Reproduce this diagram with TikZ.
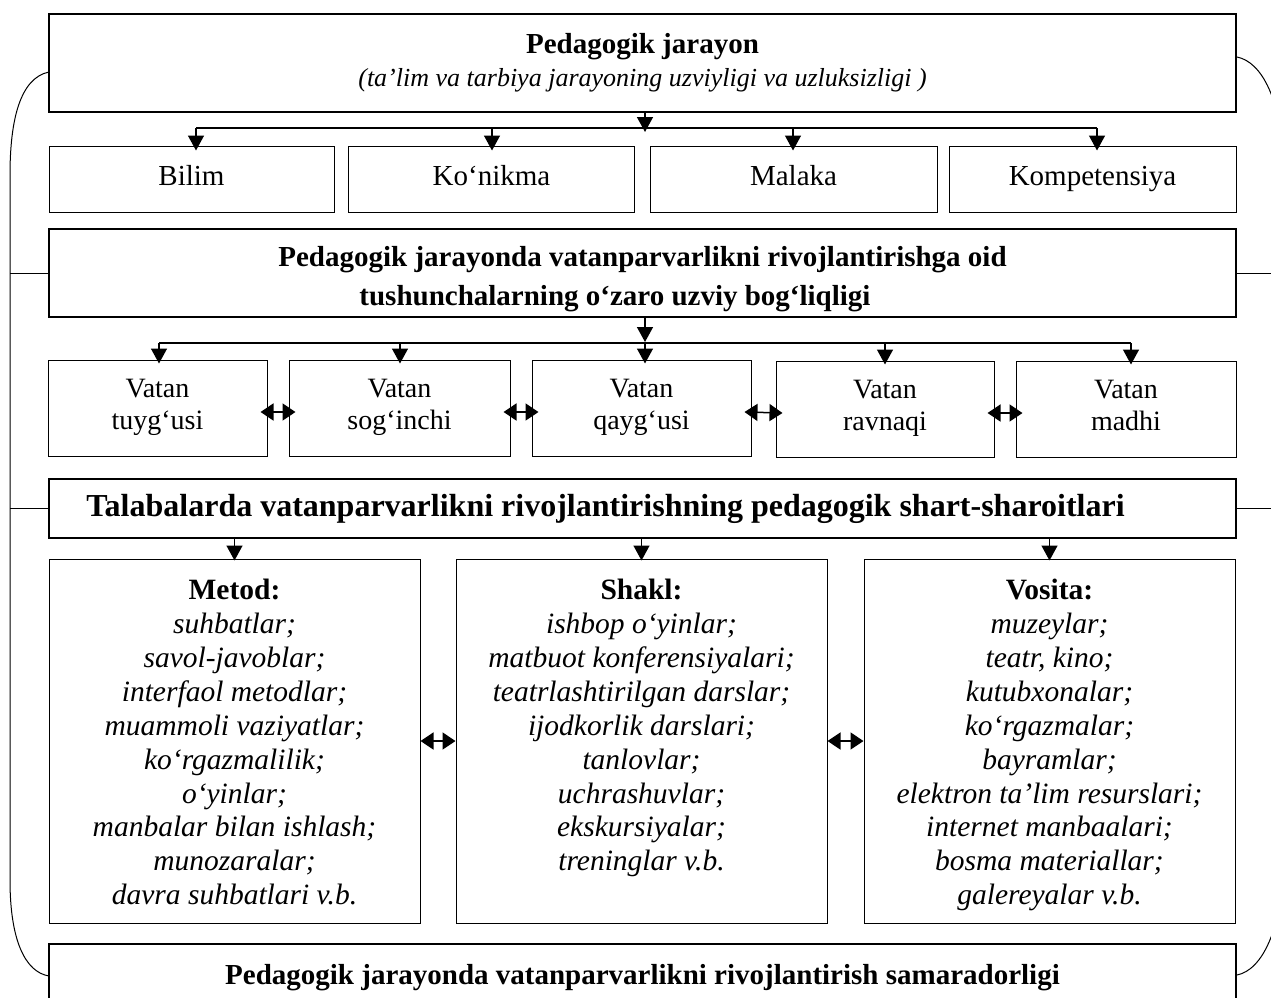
\documentclass[tikz,border=0pt]{standalone}
\usepackage{fontspec}
\setmainfont{Liberation Serif}
\usetikzlibrary{arrows.meta}
\begin{document}
\begin{tikzpicture}[x=1pt,y=-1pt,
  thickbox/.style={draw, line width=1.6pt, inner sep=0pt, minimum width=1187pt},
  thinbox/.style={draw, line width=1pt, inner sep=0pt},
  rowbox/.style={thinbox, minimum height=66pt, text height=20pt, text depth=7pt},
  conn/.style={line width=1.5pt},
  arr/.style={line width=1.5pt, -{Triangle[length=15pt,width=16pt]}},
  darr/.style={line width=1.5pt, {Triangle[length=13pt,width=17pt]}-{Triangle[length=13pt,width=17pt]}},
  brace/.style={line width=1pt},
  boldtxt/.style={font=\bfseries\fontsize{29}{39}\selectfont},
  vatan/.style={thinbox, minimum height=96pt, align=center, text depth=8pt, font=\fontsize{28}{32}\selectfont},
  listtxt/.style={anchor=north, align=center, inner sep=0pt, font=\itshape\fontsize{29.5}{33.9}\selectfont},
  every node/.style={font=\fontsize{29}{33}\selectfont}
]
\fill[white] (0,0) rectangle (1271,998);
\useasboundingbox (0,0) rectangle (1271,998);

% top box
\node[thickbox, minimum height=98pt, align=center] (top) at (642.5,63)
  {\textbf{Pedagogik jarayon}\\{\fontsize{26}{33}\selectfont\itshape (ta’lim va tarbiya jarayoning uzviyligi va uzluksizligi )}};

% row 2
\node[rowbox, minimum width=285pt] (bilim) at (191.5,179) {Bilim};
\node[rowbox, minimum width=286pt] (konikma) at (491.5,179) {Ko‘nikma};
\node[rowbox, minimum width=287pt] (malaka) at (793.5,179) {Malaka};
\node[rowbox, minimum width=287pt] (komp) at (1092.5,179) {Kompetensiya};

% box 2
\node[thickbox, minimum height=88pt] (link) at (642.5,273) {};
\node[boldtxt, align=center, inner sep=0pt] (linktxt) at (642.5,279)
  {Pedagogik jarayonda vatanparvarlikni rivojlantirishga oid\\tushunchalarning o‘zaro uzviy bog‘liqligi\hspace*{55pt}};

% vatan row
\node[vatan, minimum width=219pt] (v1) at (157.5,408) {Vatan\\tuyg‘usi};
\node[vatan, minimum width=221pt] (v2) at (399.5,408) {Vatan\\sog‘inchi};
\node[vatan, minimum width=219pt] (v3) at (641.5,408) {Vatan\\qayg‘usi};
\node[vatan, minimum width=218pt] (v4) at (885,409) {Vatan\\ravnaqi};
\node[vatan, minimum width=220pt] (v5) at (1126,409) {Vatan\\madhi};

% conditions box
\node[thickbox, font=\bfseries\fontsize{32}{36}\selectfont, minimum height=59pt, text height=22pt, text depth=6pt] (talab) at (642.5,508.5)
  {Talabalarda vatanparvarlikni rivojlantirishning pedagogik shart-sharoitlari\hspace*{74pt}};

% big boxes
\node[thinbox, minimum width=371pt, minimum height=364pt] (metod) at (234.5,741) {};
\node[thinbox, minimum width=371pt, minimum height=364pt] (shakl) at (641.5,741) {};
\node[thinbox, minimum width=371pt, minimum height=364pt] (vosita) at (1049.5,741) {};

\node[listtxt] (metodtxt) at (234.5,579) {\textup{\textbf{Metod:}}\\suhbatlar;\\savol-javoblar;\\interfaol metodlar;\\muammoli vaziyatlar;\\ko‘rgazmalilik;\\o‘yinlar;\\manbalar bilan ishlash;\\munozaralar;\\davra suhbatlari v.b.};
\node[listtxt] (shakltxt) at (641.5,579) {\textup{\textbf{Shakl:}}\\ishbop o‘yinlar;\\matbuot konferensiyalari;\\teatrlashtirilgan darslar;\\ijodkorlik darslari;\\tanlovlar;\\uchrashuvlar;\\ekskursiyalar;\\treninglar v.b.};
\node[listtxt] (vositatxt) at (1049.5,579) {\textup{\textbf{Vosita:}}\\muzeylar;\\teatr, kino;\\kutubxonalar;\\ko‘rgazmalar;\\bayramlar;\\elektron ta’lim resurslari;\\internet manbaalari;\\bosma materiallar;\\galereyalar v.b.};

% bottom box
\node[thickbox, boldtxt, minimum height=66pt, text height=20pt, text depth=6pt] (eff) at (642.5,977)
  {Pedagogik jarayonda vatanparvarlikni rivojlantirish samaradorligi};

% connectors row 1 -> row 2
\coordinate (t1) at (645,132);
\coordinate (a1) at (196,128);
\coordinate (a2) at (492,128);
\coordinate (a3) at (793,128);
\coordinate (a4) at (1097,128);
\draw[conn] (a1) -- (a4);
\draw[arr] (top.south -| t1) -- (t1);
\draw[arr] (a1) -- ([yshift=-5pt]a1 |- bilim.north);
\draw[arr] (a2) -- ([yshift=-5pt]a2 |- konikma.north);
\draw[arr] (a3) -- ([yshift=-5pt]a3 |- malaka.north);
\draw[arr] (a4) -- ([yshift=-5pt]a4 |- komp.north);

% connectors box 2 -> vatan row
\coordinate (t2) at (645,342);
\coordinate (b1) at (159,343);
\coordinate (b2) at (400,343);
\coordinate (b3) at (645,343);
\coordinate (b4) at (885,343);
\coordinate (b5) at (1131,343);
\draw[conn] (b1) -- (b5);
\draw[arr] (link.south -| t2) -- (t2);
\draw[arr] (b1) -- ([yshift=-4pt]b1 |- v1.north);
\draw[arr] (b2) -- ([yshift=-4pt]b2 |- v2.north);
\draw[arr] (b3) -- ([yshift=-4pt]b3 |- v3.north);
\draw[arr] (b4) -- ([yshift=-4pt]b4 |- v4.north);
\draw[arr] (b5) -- ([yshift=-4pt]b5 |- v5.north);

% double arrows vatan
\draw[darr] ([xshift=-7pt,yshift=-4pt]v1.east) -- ([xshift=7pt,yshift=-4pt]v2.west);
\draw[darr] ([xshift=-7pt,yshift=-4pt]v2.east) -- ([xshift=7pt,yshift=-4pt]v3.west);
\draw[darr] ([xshift=-7pt,yshift=-4pt]v3.east) -- ([xshift=7pt,yshift=-4pt]v4.west);
\draw[darr] ([xshift=-7pt,yshift=-4pt]v4.east) -- ([xshift=7pt,yshift=-4pt]v5.west);

% conditions -> big boxes
\draw[arr] (talab.south -| metod.north) -- ([yshift=-2pt]metod.north);
\draw[arr] (talab.south -| shakl.north) -- ([yshift=-2pt]shakl.north);
\draw[arr] (talab.south -| vosita.north) -- ([yshift=-2pt]vosita.north);

\draw[darr] (metod.east) -- (shakl.west);
\draw[darr] (shakl.east) -- (vosita.west);

% side brackets
\draw[brace] (49,72) .. controls (20,78) and (10,120) .. (10,175) -- (10,880)
  .. controls (10,940) and (25,972) .. (49,976);
\draw[brace] (1237,57) .. controls (1262,62) and (1282,100) .. (1284,170) -- (1284,860)
  .. controls (1282,930) and (1262,970) .. (1237,975);
\draw[brace] (10,273) -- (link.west);
\draw[brace] (link.east) -- (1271,273);
\draw[brace] (10,508.5) -- (talab.west);
\draw[brace] (talab.east) -- (1271,508.5);
\end{tikzpicture}
\end{document}
